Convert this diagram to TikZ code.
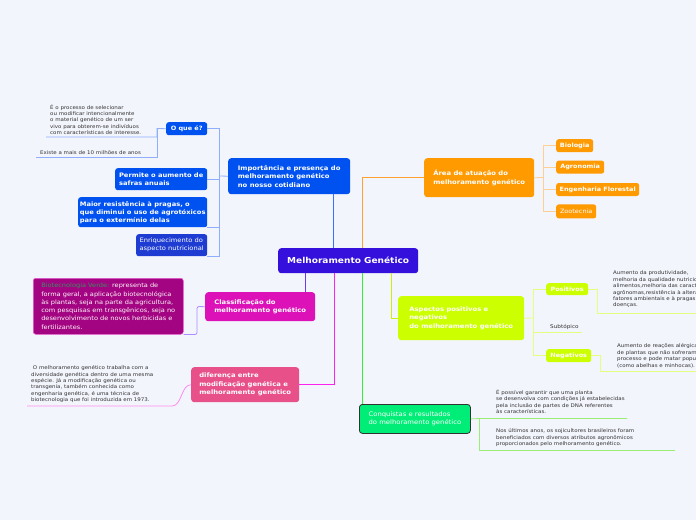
\documentclass[tikz,border=0pt]{standalone}
\usepackage{fontspec}
\setmainfont{DejaVu Sans}[FakeStretch=1.1]
\usetikzlibrary{positioning}

\definecolor{bgpaper}{HTML}{F3F5FD}
\definecolor{rootviolet}{HTML}{3510DC}
\definecolor{impblue}{HTML}{0052F0}
\definecolor{nutriblue}{HTML}{1E3CD2}
\definecolor{lnblue}{HTML}{3A70FF}
\definecolor{lnblue2}{HTML}{8FAEFF}
\definecolor{areaorange}{HTML}{FF9A00}
\definecolor{lnorange}{HTML}{FFA030}
\definecolor{lnorange2}{HTML}{FFCF94}
\definecolor{asplime}{HTML}{CCFF00}
\definecolor{lnlime}{HTML}{CCEE10}
\definecolor{lnlime2}{HTML}{E2FF80}
\definecolor{conqgreen}{HTML}{00EE78}
\definecolor{lngreen}{HTML}{33EE33}
\definecolor{lngreen2}{HTML}{99EE77}
\definecolor{classmagenta}{HTML}{DC12B8}
\definecolor{biomagenta}{HTML}{A20482}
\definecolor{bioverde}{HTML}{3A9060}
\definecolor{lnviolet}{HTML}{6A3CF0}
\definecolor{lnviolet2}{HTML}{AC8CFF}
\definecolor{difpink}{HTML}{E8508A}
\definecolor{lnpink}{HTML}{FF22EE}
\definecolor{lnpink2}{HTML}{FF8CEE}
\definecolor{notegray}{HTML}{333333}

\begin{document}
\begin{tikzpicture}[
    x=1pt, y=-1pt,
    every node/.style={inner sep=0pt},
    topic/.style={
        rounded corners=3pt,
        anchor=north west,
        align=left,
        text=white,
        font=\bfseries\fontsize{6.2}{8.5}\selectfont
    },
    leaf/.style={
        rounded corners=2.5pt,
        anchor=north west,
        align=center,
        text=white,
        font=\bfseries\fontsize{5.9}{7.5}\selectfont
    },
    note/.style={
        anchor=south west,
        align=left,
        text=notegray,
        font=\fontsize{5}{6.4}\selectfont
    },
    trunk/.style={line width=1.3pt},
    twig/.style={line width=0.8pt}
]

\useasboundingbox (0,0) rectangle (696,520);
\fill[bgpaper] (0,0) rectangle (696,520);
\clip (0,0) rectangle (696,520);

%% ── Root ─────────────────────────────────────────────────────────────────────

\node[topic, fill=rootviolet, align=center, minimum width=140pt,
      minimum height=25pt, font=\bfseries\fontsize{8.2}{10}\selectfont]
      (root) at (278,248) {Melhoramento Genético};

%% ── Main topics ──────────────────────────────────────────────────────────────

\node[topic, fill=impblue, minimum width=122pt, minimum height=36pt]
    (imp) at (228,158)
    {Importância e presença do\\
     melhoramento genético\\
     no nosso cotidiano};

\node[topic, fill=areaorange, minimum width=110pt, minimum height=39pt]
    (area) at (424,158)
    {Área de atuação do\\
     melhoramento genético};

\node[topic, fill=asplime, minimum width=126pt, minimum height=44pt]
    (asp) at (398,296)
    {Aspectos positivos e\\
     negativos\\
     do melhoramento genético};

\node[topic, fill=conqgreen, draw=notegray, line width=0.8pt,
      minimum width=111pt, minimum height=29pt,
      font=\fontsize{6.2}{8.5}\selectfont] (conq) at (359,404)
    {Conquistas e resultados\\
     do melhoramento genético};

\node[topic, fill=classmagenta, minimum width=110pt, minimum height=29pt]
    (classif) at (205,292)
    {Classificação do\\
     melhoramento genético};

\node[topic, fill=difpink, minimum width=108pt, minimum height=35pt]
    (dif) at (191,367)
    {diferença entre\\
     modificação genética e\\
     melhoramento genético};

%% ── Importância: children ───────────────────────────────────────────────────

\node[leaf, fill=impblue, minimum width=41pt, minimum height=13pt]
    (oque) at (166,122) {O que é?};

\node[leaf, fill=impblue, align=left, minimum width=92pt, minimum height=22pt,
      font=\bfseries\fontsize{6.1}{8}\selectfont]
    (safras) at (115,168)
    {Permite o aumento de\\
     safras anuais};

\node[leaf, fill=impblue, align=left, minimum width=129pt, minimum height=30pt,
      font=\bfseries\fontsize{6.1}{8}\selectfont]
    (pragas) at (78,197)
    {Maior resistência à pragas, o\\
     que diminui o uso de agrotóxicos\\
     para o extermínio delas};

\node[leaf, fill=nutriblue, align=left, minimum width=71pt, minimum height=22pt,
      font=\fontsize{6.1}{8}\selectfont]
    (nutri) at (136,234)
    {Enriquecimento do\\
     aspecto nutricional};

\node[note] (oqnote) at (50,135)
    {É o processo de selecionar\\
     ou modificar intencionalmente\\
     o material genético de um ser\\
     vivo para obterem-se indivíduos\\
     com características de interesse.};

\node[note] (idade) at (40,155) {Existe a mais de 10 milhões de anos};

%% ── Área de atuação: children ───────────────────────────────────────────────

\node[leaf, fill=areaorange, minimum width=37pt, minimum height=13pt]
    (bio) at (556,139) {Biologia};
\node[leaf, fill=areaorange, minimum width=48pt, minimum height=13pt,
      below=8pt of bio.south west, anchor=north west] (agro) {Agronomia};
\node[leaf, fill=areaorange, minimum width=83pt, minimum height=13pt,
      below=9pt of agro.south west, anchor=north west] (flor)
    {Engenharia Florestal};
\node[leaf, fill=areaorange, minimum width=40pt, minimum height=14pt,
      below=8pt of flor.south west, anchor=north west,
      font=\fontsize{5.9}{7.5}\selectfont] (zoo) {Zootecnia};

%% ── Aspectos: children ──────────────────────────────────────────────────────

\node[leaf, fill=asplime, minimum width=42pt, minimum height=12pt]
    (pos) at (546,283) {Positivos};
\node[leaf, fill=asplime, minimum width=45pt, minimum height=13pt]
    (neg) at (546,349) {Negativos};

\node[note, font=\fontsize{5.2}{6.4}\selectfont] (subt) at (550,330) {Subtópico};

\node[note] (posnote) at (613,308)
    {Aumento da produtividade,\\
     melhoria da qualidade nutricional dos\\
     alimentos,melhoria das características\\
     agrônomas,resistência à alterações de\\
     fatores ambientais e à pragas e\\
     doenças.};

\node[note] (negnote) at (617,368)
    {Aumento de reações alérgicas\\
     de plantas que não sofreram o\\
     processo e pode matar populações\\
     (como abelhas e minhocas).};

%% ── Conquistas: children ────────────────────────────────────────────────────

\node[note] (cqnote1) at (496,414)
    {É possível garantir que uma planta\\
     se desenvolva com condições já estabelecidas\\
     pela inclusão de partes de DNA referentes\\
     às características.};

\node[note] (cqnote2) at (496,447)
    {Nos últimos anos, os sojicultores brasileiros foram\\
     beneficiados com diversos atributos agronômicos\\
     proporcionados pelo melhoramento genético.};

%% ── Classificação / diferença: children ─────────────────────────────────────

\node[leaf, fill=biomagenta, draw=classmagenta!70, line width=0.5pt,
      align=left, minimum width=150pt, minimum height=56pt,
      font=\fontsize{6}{8.3}\selectfont, text=white!92!pink]
    (biotec) at (33,278)
    {\textcolor{bioverde}{Biotecnologia Verde:} representa de\\
     forma geral, a aplicação biotecnológica\\
     às plantas, seja na parte da agricultura,\\
     com pesquisas em transgênicos, seja no\\
     desenvolvimento de novos herbicidas e\\
     fertilizantes.};

\node[note] (difnote) at (31,403)
    {\ O melhoramento genético trabalha com a\\
     diversidade genética dentro de uma mesma\\
     espécie. Já a modificação genética ou\\
     transgenia, também conhecida como\\
     engenharia genética, é uma técnica de\\
     biotecnologia que foi introduzida em 1973.};

%% ── Free ends of the underlines ─────────────────────────────────────────────

\coordinate (impfork)  at (219,176);
\coordinate (oqfork)   at (157,128.5);
\coordinate (oqend)    at (46,137);
\coordinate (idadeend) at (36,157);
\coordinate (areafork) at (543,177.5);
\coordinate (aspfork)  at (533,318);
\coordinate (subend)   at (582,332);
\coordinate (posbend)  at (597,313);
\coordinate (posend)   at (700,313);
\coordinate (negbend)  at (600,371);
\coordinate (negend)   at (700,371);
\coordinate (conqfork) at (479,418.5);
\coordinate (cqend1)   at (627,418.5);
\coordinate (cqend2)   at (675,450);
\coordinate (clfork)   at (197,306.5);
\coordinate (difbend)  at (172,406);
\coordinate (difend)   at (27,406);

%% ── Root → main topics ──────────────────────────────────────────────────────

\draw[trunk, lnblue] ([xshift=-17pt]imp.south east)
    -- ([xshift=-17pt]imp.south east |- root.north);
\draw[trunk, lnorange] ([xshift=14pt]root.north) |- (area.west);
\draw[trunk, lnlime] ([xshift=43pt]root.south) |- (asp.west);
\draw[trunk, lngreen] ([xshift=14pt]root.south)
    -- ([xshift=14pt]root.south |- conq.north);
\draw[trunk, lnviolet] ([xshift=-43pt]root.south)
    -- ([xshift=-43pt]root.south |- classif.north);
\draw[trunk, lnpink] ([xshift=-14pt]root.south) |- (dif.east);

%% ── Importância → children ──────────────────────────────────────────────────

\draw[twig, lnblue2] (imp.west) -- (impfork);
\draw[twig, lnblue2] (impfork) |- (oque.east);
\draw[twig, lnblue2] (impfork) |- (safras.east);
\draw[twig, lnblue2] (impfork) |- (pragas.south east);
\draw[twig, lnblue2] (impfork) |- (nutri.south east);
\draw[twig, lnblue2] (oque.west) -- (oqfork) |- (oqend);
\draw[twig, lnblue2] (oqfork) |- (idadeend);

%% ── Área → children ─────────────────────────────────────────────────────────

\draw[twig, lnorange2] (area.east) -- (areafork);
\foreach \leafname in {bio, agro, flor, zoo}
    \draw[twig, lnorange2] (areafork) |- (\leafname.west);

%% ── Aspectos → children ─────────────────────────────────────────────────────

\draw[twig, lnlime2] (asp.east) -- (aspfork);
\draw[twig, lnlime2] (aspfork) |- (pos.west);
\draw[twig, lnlime2] (aspfork) |- (neg.west);
\draw[twig, lnlime2] (aspfork) |- (subend);
\draw[twig, lnlime2] (pos.east) -| (posbend) -- (posend);
\draw[twig, lnlime2] (neg.east) -| (negbend) -- (negend);

%% ── Conquistas → children ───────────────────────────────────────────────────

\draw[twig, lngreen2] (conq.east) -- (conqfork) -- (cqend1);
\draw[twig, lngreen2] (conqfork) |- (cqend2);

%% ── Classificação / diferença → children ────────────────────────────────────

\draw[twig, lnviolet2, rounded corners=2pt]
    (classif.west) -- (clfork) |- (biotec.south east);
\draw[twig, lnpink2] (dif.west) to[out=180, in=0, looseness=0.9] (difbend)
    -- (difend);

\end{tikzpicture}
\end{document}
